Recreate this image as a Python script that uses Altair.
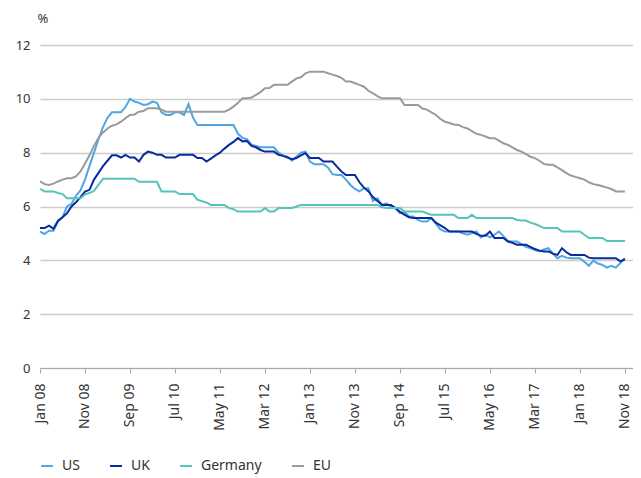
import altair as alt
import pandas as pd

tick_labels = ["Jan 08", "Nov 08", "Sep 09", "Jul 10", "May 11", "Mar 12", "Jan 13",
               "Nov 13", "Sep 14", "Jul 15", "May 16", "Mar 17", "Jan 18", "Nov 18"]
series_names = ["US", "UK", "Germany", "EU"]
series_colors = ["#4ea6e3", "#0a2a9e", "#55c4b9", "#9a9a9a"]

# monthly values, Jan 2008 .. Nov 2018 (131 months)
us = [5.07, 4.98, 5.1, 5.1, 5.44, 5.6, 6.0, 6.1, 6.4, 6.6,
      7.0, 7.5, 8.0, 8.5, 8.95, 9.3, 9.5, 9.5, 9.5, 9.7,
      10.0, 9.9, 9.85, 9.77, 9.8, 9.9, 9.85, 9.5, 9.4, 9.4,
      9.5, 9.5, 9.4, 9.8, 9.3, 9.03, 9.03, 9.03, 9.03, 9.03,
      9.03, 9.03, 9.03, 9.03, 8.7, 8.55, 8.5, 8.3, 8.25, 8.2,
      8.2, 8.2, 8.2, 8.0, 7.9, 7.85, 7.7, 7.85, 8.0, 8.04,
      7.67, 7.57, 7.57, 7.57, 7.45, 7.2, 7.17, 7.17, 7.0, 6.8,
      6.65, 6.56, 6.68, 6.68, 6.2, 6.3, 6.06, 6.12, 6.0, 5.94,
      5.75, 5.8, 5.63, 5.63, 5.5, 5.44, 5.44, 5.57, 5.35, 5.15,
      5.07, 5.07, 5.07, 5.07, 5.0, 4.95, 5.01, 5.07, 4.85, 4.95,
      4.85, 4.95, 5.07, 4.9, 4.72, 4.7, 4.7, 4.6, 4.5, 4.45,
      4.38, 4.33, 4.4, 4.45, 4.25, 4.08, 4.17, 4.1, 4.08, 4.08,
      4.08, 3.95, 3.8, 3.99, 3.88, 3.83, 3.73, 3.8, 3.73, 3.9,
      4.08]
uk = [5.2, 5.2, 5.29, 5.17, 5.47, 5.6, 5.75, 6.0, 6.16, 6.35,
      6.55, 6.62, 7.0, 7.25, 7.5, 7.7, 7.9, 7.9, 7.82, 7.92,
      7.82, 7.82, 7.67, 7.92, 8.04, 8.0, 7.92, 7.92, 7.82, 7.82,
      7.82, 7.92, 7.92, 7.92, 7.92, 7.8, 7.8, 7.67, 7.78, 7.9,
      8.0, 8.15, 8.29, 8.4, 8.54, 8.42, 8.43, 8.25, 8.2, 8.1,
      8.04, 8.04, 8.04, 7.92, 7.88, 7.82, 7.76, 7.8, 7.9, 7.98,
      7.8, 7.8, 7.8, 7.67, 7.67, 7.67, 7.48, 7.3, 7.17, 7.17,
      7.17, 6.9, 6.7, 6.56, 6.35, 6.2, 6.06, 6.06, 6.06, 5.94,
      5.8, 5.7, 5.6, 5.57, 5.57, 5.57, 5.57, 5.57, 5.4, 5.3,
      5.2, 5.07, 5.07, 5.07, 5.07, 5.07, 5.07, 4.98, 4.91, 4.91,
      5.07, 4.83, 4.83, 4.83, 4.7, 4.65, 4.58, 4.58, 4.58, 4.5,
      4.42, 4.36, 4.33, 4.33, 4.25, 4.2, 4.45, 4.3, 4.2, 4.2,
      4.2, 4.2, 4.1, 4.08, 4.08, 4.08, 4.08, 4.08, 4.08, 3.96,
      4.04]
germany = [6.66, 6.56, 6.56, 6.56, 6.5, 6.46, 6.31, 6.31, 6.31, 6.31,
           6.45, 6.5, 6.58, 6.8, 7.03, 7.03, 7.03, 7.03, 7.03, 7.03,
           7.03, 7.03, 6.92, 6.92, 6.92, 6.92, 6.92, 6.56, 6.56, 6.56,
           6.56, 6.46, 6.46, 6.46, 6.46, 6.25, 6.2, 6.15, 6.06, 6.06,
           6.06, 6.06, 5.94, 5.9, 5.81, 5.81, 5.81, 5.81, 5.81, 5.81,
           5.94, 5.81, 5.81, 5.94, 5.94, 5.94, 5.94, 6.0, 6.06, 6.06,
           6.06, 6.06, 6.06, 6.06, 6.06, 6.06, 6.06, 6.06, 6.06, 6.06,
           6.06, 6.06, 6.06, 6.06, 6.06, 6.06, 5.98, 5.94, 5.94, 5.94,
           5.94, 5.81, 5.81, 5.81, 5.81, 5.81, 5.75, 5.69, 5.69, 5.69,
           5.69, 5.69, 5.69, 5.57, 5.57, 5.57, 5.69, 5.57, 5.57, 5.57,
           5.57, 5.57, 5.57, 5.57, 5.57, 5.57, 5.5, 5.48, 5.48, 5.4,
           5.35, 5.28, 5.2, 5.2, 5.2, 5.2, 5.07, 5.07, 5.07, 5.07,
           5.07, 4.95, 4.83, 4.83, 4.83, 4.83, 4.72, 4.72, 4.72, 4.72,
           4.72]
eu = [6.93, 6.83, 6.8, 6.85, 6.93, 7.0, 7.05, 7.05, 7.12, 7.3,
      7.6, 7.9, 8.25, 8.55, 8.75, 8.9, 9.0, 9.05, 9.15, 9.28,
      9.4, 9.42, 9.52, 9.55, 9.65, 9.65, 9.65, 9.6, 9.52, 9.52,
      9.52, 9.52, 9.52, 9.52, 9.52, 9.52, 9.52, 9.52, 9.52, 9.52,
      9.52, 9.52, 9.6, 9.71, 9.85, 10.02, 10.02, 10.05, 10.15, 10.25,
      10.39, 10.4, 10.52, 10.52, 10.52, 10.52, 10.64, 10.76, 10.8, 10.95,
      11.01, 11.01, 11.01, 11.01, 10.95, 10.9, 10.85, 10.78, 10.64, 10.64,
      10.58, 10.52, 10.45, 10.3, 10.2, 10.1, 10.02, 10.02, 10.02, 10.02,
      10.02, 9.77, 9.77, 9.77, 9.77, 9.64, 9.6, 9.5, 9.4, 9.25,
      9.15, 9.1, 9.05, 9.03, 8.95, 8.9, 8.8, 8.7, 8.66, 8.6,
      8.54, 8.54, 8.45, 8.35, 8.29, 8.2, 8.1, 8.04, 7.95, 7.85,
      7.8, 7.7, 7.58, 7.55, 7.55, 7.45, 7.35, 7.24, 7.15, 7.1,
      7.05, 7.0, 6.9, 6.83, 6.8, 6.75, 6.7, 6.65, 6.56, 6.56,
      6.56]

rows = []
for name, vals in zip(series_names, [us, uk, germany, eu]):
    for i, v in enumerate(vals):
        rows.append({"m": i, "v": v, "s": name})
df = pd.DataFrame(rows)

label_expr = "[" + ",".join("'" + t + "'" for t in tick_labels) + "][datum.value / 10]"

FONT = "Noto Sans"
TXT = "#333333"

chart = alt.Chart(df).mark_line(strokeWidth=2).encode(
    x=alt.X("m:Q",
            scale=alt.Scale(domain=[0, 131.8], nice=False, zero=False),
            axis=alt.Axis(values=list(range(0, 131, 10)), labelExpr=label_expr,
                          labelAngle=-90, labelAlign="right", labelBaseline="middle",
                          grid=False, domainColor="#aaaaaa", tickColor="#aaaaaa",
                          tickSize=5, labelPadding=10, title=None,
                          labelFontSize=14, labelColor=TXT, labelFont=FONT)),
    y=alt.Y("v:Q",
            scale=alt.Scale(domain=[0, 12], nice=False),
            axis=alt.Axis(values=[0, 2, 4, 6, 8, 10, 12], grid=True, gridColor="#cccccc",
                          gridWidth=1.5, domain=False, ticks=False, labelPadding=10,
                          labelFontSize=13, labelColor=TXT, labelFont=FONT,
                          title="%", titleAngle=0, titleX=-3, titleY=-27,
                          titleAlign="left", titleBaseline="middle",
                          titleFontSize=13, titleFontWeight="normal",
                          titleColor=TXT, titleFont=FONT)),
    color=alt.Color("s:N",
                    scale=alt.Scale(domain=series_names, range=series_colors),
                    sort=series_names,
                    legend=alt.Legend(orient="none", legendX=0, legendY=414,
                                      direction="horizontal", title=None,
                                      labelFontSize=14, labelColor=TXT,
                                      labelFont=FONT, symbolType="stroke",
                                      symbolStrokeWidth=2, symbolSize=140,
                                      columnPadding=26, labelOffset=8)),
    order=alt.Order("m:Q"),
).properties(
    width=593, height=323,
    autosize=alt.AutoSizeParams(type="none"),
    padding={"left": 32, "top": 37, "right": 0, "bottom": 112},
).configure_view(stroke=None)

chart.save("out.html", embed_options={"renderer": "svg", "actions": False})
